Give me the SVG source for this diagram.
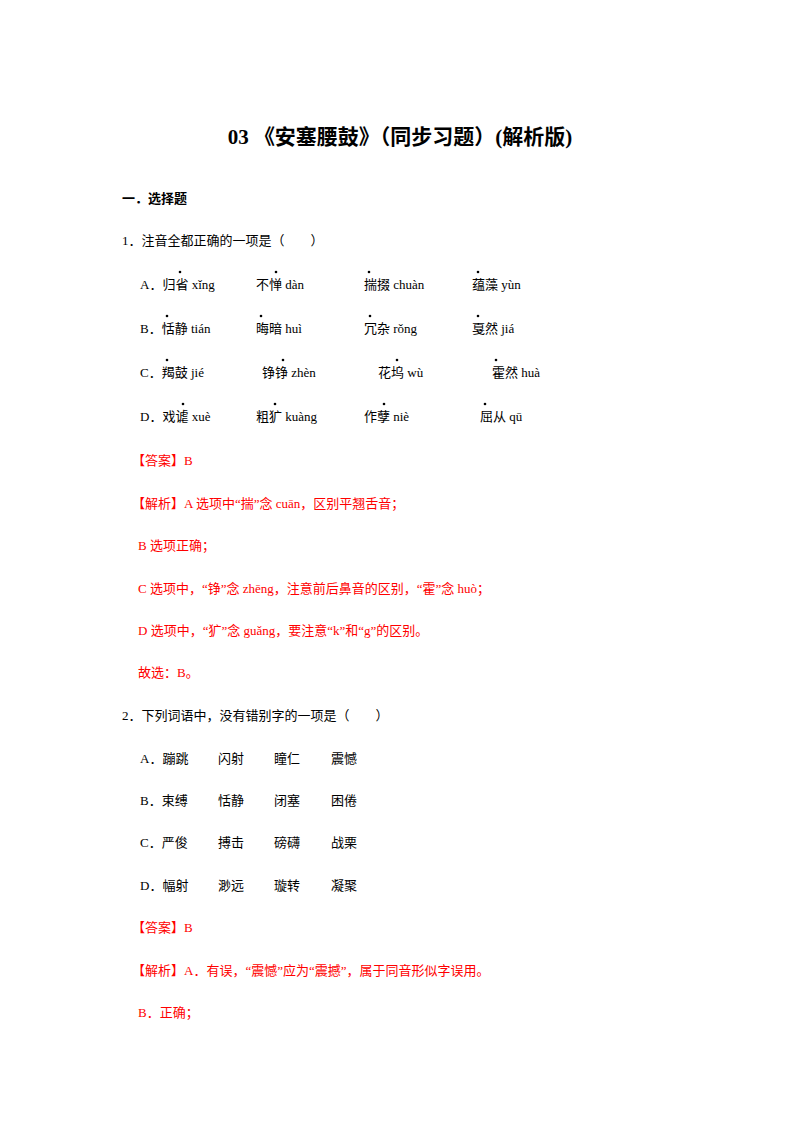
<svg xmlns="http://www.w3.org/2000/svg" width="800" height="1132" viewBox="0 0 800 1132">
<style>
text{font-family:"Liberation Serif","Noto Sans CJK SC",serif;font-size:13px;fill:#000}
.r{fill:#f00}
.t{font-size:21px;font-weight:bold}
.h{font-weight:bold}
circle{fill:#000}
</style>
<rect width="800" height="1132" fill="#fff"/>
<text x="400" y="144" class="t" text-anchor="middle">03 《安塞腰鼓》（同步习题）(解析版)</text>
<text x="122" y="203" class="h">一．选择题</text>
<text x="122" y="245">1．注音全都正确的一项是（　　）</text>
<g>
<text x="140" y="289">A．归省 xǐng</text><text x="256" y="289">不惮 dàn</text><text x="364" y="289">揣掇 chuàn</text><text x="472" y="289">蕴藻 yùn</text>
<text x="140" y="333">B．恬静 tián</text><text x="256" y="333">晦暗 huì</text><text x="364" y="333">冗杂 rǒng</text><text x="472" y="333">戛然 jiá</text>
<text x="140" y="377">C．羯鼓 jié</text><text x="262" y="377">铮铮 zhèn</text><text x="378" y="377">花坞 wù</text><text x="492" y="377">霍然 huà</text>
<text x="140" y="421">D．戏谑 xuè</text><text x="256" y="421">粗犷 kuàng</text><text x="364" y="421">作孽 niè</text><text x="480" y="421">屈从 qū</text>
<circle cx="180" cy="272" r="1.3"/><circle cx="276" cy="272" r="1.3"/><circle cx="369" cy="272" r="1.3"/><circle cx="478" cy="272" r="1.3"/>
<circle cx="167" cy="316" r="1.3"/><circle cx="261" cy="316" r="1.3"/><circle cx="370" cy="316" r="1.3"/><circle cx="478" cy="316" r="1.3"/>
<circle cx="167" cy="360" r="1.3"/><circle cx="283" cy="360" r="1.3"/><circle cx="397" cy="360" r="1.3"/><circle cx="496" cy="360" r="1.3"/>
<circle cx="183" cy="404" r="1.3"/><circle cx="275" cy="404" r="1.3"/><circle cx="384" cy="404" r="1.3"/><circle cx="485" cy="404" r="1.3"/>
</g>
<text x="132" y="465" class="r">【答案】B</text>
<text x="132" y="508" class="r">【解析】A 选项中“揣”念 cuān，区别平翘舌音；</text>
<text x="138" y="550" class="r">B 选项正确；</text>
<text x="138" y="593" class="r">C 选项中，“铮”念 zhēng，注意前后鼻音的区别，“霍”念 huò；</text>
<text x="138" y="635" class="r">D 选项中，“犷”念 guǎng，要注意“k”和“g”的区别。</text>
<text x="138" y="677" class="r">故选：B。</text>
<text x="122" y="720">2．下列词语中，没有错别字的一项是（　　）</text>
<text x="140" y="763">A．蹦跳</text><text x="218" y="763">闪射</text><text x="274" y="763">瞳仁</text><text x="331" y="763">震憾</text>
<text x="140" y="805">B．束缚</text><text x="218" y="805">恬静</text><text x="274" y="805">闭塞</text><text x="331" y="805">困倦</text>
<text x="140" y="847">C．严俊</text><text x="218" y="847">搏击</text><text x="274" y="847">磅礴</text><text x="331" y="847">战栗</text>
<text x="140" y="890">D．幅射</text><text x="218" y="890">渺远</text><text x="274" y="890">璇转</text><text x="331" y="890">凝聚</text>
<text x="132" y="932" class="r">【答案】B</text>
<text x="132" y="975" class="r">【解析】A．有误，“震憾”应为“震撼”，属于同音形似字误用。</text>
<text x="138" y="1017" class="r">B．正确；</text>
</svg>
